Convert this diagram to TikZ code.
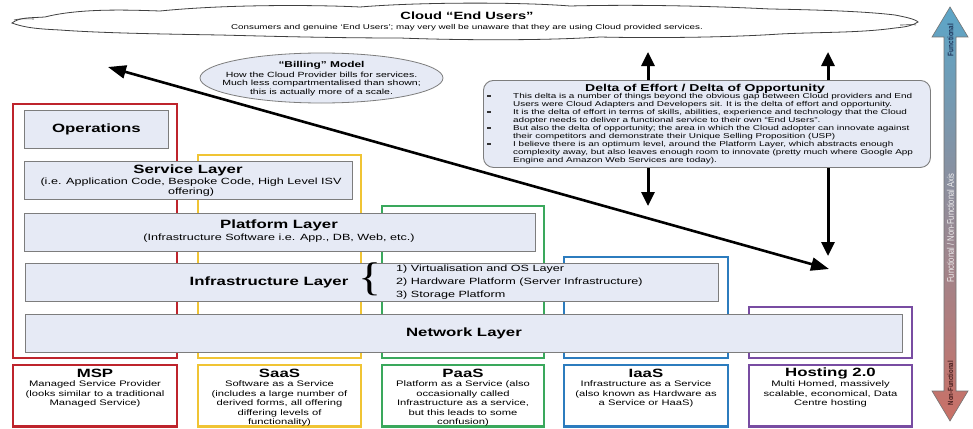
\documentclass[tikz,border=0pt]{standalone}
\usepackage{fontspec}
\setmainfont{Liberation Sans}[FakeStretch=1.4]
\newfontfamily\axisfont{Liberation Sans}[FakeStretch=0.8]
\newfontfamily\bracefont{Liberation Serif}[FakeStretch=1.2]
\usetikzlibrary{arrows.meta,shapes.geometric}
\definecolor{cred}{RGB}{190,36,44}
\definecolor{cyel}{RGB}{240,196,52}
\definecolor{cgrn}{RGB}{58,168,92}
\definecolor{cblu}{RGB}{44,124,190}
\definecolor{cpur}{RGB}{120,76,162}
\definecolor{boxfill}{RGB}{230,234,245}
\definecolor{boxdraw}{RGB}{125,125,125}
\definecolor{axtop}{RGB}{92,166,200}
\definecolor{axmid}{RGB}{158,156,168}
\definecolor{axbot}{RGB}{202,112,102}
\definecolor{axnavy}{RGB}{30,52,90}
\definecolor{axdark}{RGB}{70,30,30}
\begin{document}
\begin{tikzpicture}[x=1pt,y=-1pt,
  col/.style={line width=2.4pt},
  layer/.style={draw=boxdraw, fill=boxfill, line width=0.9pt, inner sep=0pt, anchor=north west},
  ttl/.style={font=\fontsize{12}{13}\selectfont\bfseries, inner sep=0pt},
  subt/.style={font=\fontsize{9}{10}\selectfont, align=center, inner sep=0pt},
  btxt/.style={font=\fontsize{8}{9.6}\selectfont, align=center, anchor=north, inner sep=0pt},
  dtxt/.style={font=\fontsize{7.1}{8}\selectfont, anchor=base west, inner sep=0pt},
  bigarr/.style={line width=3pt, -{Triangle[length=14pt,width=13pt]}},
]
\fill[white] (0,0) rectangle (973,428);
\useasboundingbox (0,0) rectangle (973,428);

% cloud
\draw[fill=white, draw=black!75, line width=0.8pt]
 (12,23) .. controls (20,17) and (30,18) .. (45,17)
 .. controls (80,8) and (130,10) .. (160,11)
 .. controls (230,4) and (320,5) .. (360,7)
 .. controls (420,2) and (520,2) .. (570,6)
 .. controls (650,4) and (730,7) .. (770,9)
 .. controls (830,10) and (870,12) .. (895,15)
 .. controls (905,17) and (915,19) .. (918,22)
 .. controls (912,26) and (905,27) .. (895,28)
 .. controls (860,33) and (820,32) .. (780,34)
 .. controls (720,38) and (640,38) .. (600,37)
 .. controls (540,41) and (450,40) .. (400,38)
 .. controls (330,38) and (260,36) .. (220,35)
 .. controls (160,34) and (100,33) .. (60,30)
 .. controls (40,29) and (25,28) .. (12,23) -- cycle;
\draw[draw=black!75, line width=0.6pt] (14,20) .. controls (22,18) and (28,19) .. (34,19);
\draw[draw=black!75, line width=0.6pt] (900,25) .. controls (908,25) and (912,24) .. (916,25);
\node[font=\fontsize{10.5}{12}\selectfont\bfseries, inner sep=0pt] (cloudt) at (467,16) {Cloud “End Users”};
\node[font=\fontsize{7}{8}\selectfont, inner sep=0pt] (clouds) at (467,27.5) {Consumers and genuine ‘End Users’; may very well be unaware that they are using Cloud provided services.};

% axis arrow
\shadedraw[top color=axtop, middle color=axmid, bottom color=axbot, draw=black!55, line width=0.6pt]
 (950,7) -- (968,37) -- (956,37) -- (956,391) -- (968,391) -- (950,421) -- (932,391) -- (944,391) -- (944,37) -- (932,37) -- cycle;
\node[rotate=90, font=\axisfont\bfseries\fontsize{8}{8}\selectfont, text=axnavy, inner sep=0pt] (axf) at (950.5,40) {Functional};
\node[rotate=90, font=\axisfont\fontsize{9.5}{10}\selectfont, text=white!88!gray, inner sep=0pt] (axm) at (950.5,228) {Functional / Non-Functional Axis};
\node[rotate=90, font=\axisfont\bfseries\fontsize{7.5}{8}\selectfont, text=axdark, inner sep=0pt] (axn) at (950.5,383) {Non-Functional};

% coloured columns
\draw[col, draw=cred] (13,104) rectangle (177,358);
\draw[col, draw=cyel] (198,155) rectangle (361,358);
\draw[col, draw=cgrn] (382,206) rectangle (544,358);
\draw[col, draw=cblu] (564,257) rectangle (728,358);
\draw[col, draw=cpur] (749,307) rectangle (912,358);

\draw[col, draw=cred] (13,365) rectangle (177,426.5);
\draw[col, draw=cyel] (198,365) rectangle (361,426.5);
\draw[col, draw=cgrn] (382,365) rectangle (544,426.5);
\draw[col, draw=cblu] (564,365) rectangle (728,426.5);
\draw[col, draw=cpur] (749,365) rectangle (912,426.5);

% layers
\node[layer, minimum width=144pt, minimum height=38pt] (ops) at (24,110) {};
\node[layer, minimum width=328pt, minimum height=38pt] (svc) at (24,161) {};
\node[layer, minimum width=511pt, minimum height=38pt] (plat) at (24,213) {};
\node[layer, minimum width=693pt, minimum height=38pt] (infra) at (25,263) {};
\node[layer, minimum width=877pt, minimum height=38pt] (net) at (25,314) {};

\node[ttl] (opst) at (ops.center) {Operations};
\node[ttl] (svct) at (188,170) {Service Layer};
\node[subt] (svcs) at (191,187.5) {(i.e. Application Code, Bespoke Code, High Level ISV\\offering)};
\node[ttl] (platt) at (279,225) {Platform Layer};
\node[subt] (plats) at (279,238) {(Infrastructure Software i.e. App., DB, Web, etc.)};
\node[ttl] (infrat) at (269,282) {Infrastructure Layer};
\node[inner sep=0pt, font=\bracefont\fontsize{40}{40}\selectfont] (brace) at (370,279) {\{};
\node[font=\fontsize{9}{13}\selectfont, align=left, anchor=west, inner sep=0pt] (infral) at (396,282)
 {1) Virtualisation and OS Layer\\2) Hardware Platform (Server Infrastructure)\\3) Storage Platform};
\node[ttl] (nett) at (net.center) {Network Layer};

% bottom boxes
\node[ttl] (mspt) at (95,373.5) {MSP};
\node[btxt] (mspb) at (95,380.5) {Managed Service Provider\\(looks similar to a traditional\\Managed Service)};
\node[ttl] (saast) at (279.5,373.5) {SaaS};
\node[btxt] (saasb) at (279.5,380.5) {Software as a Service\\(includes a large number of\\derived forms, all offering\\differing levels of\\functionality)};
\node[ttl] (paast) at (463,373.5) {PaaS};
\node[btxt] (paasb) at (463,380.5) {Platform as a Service (also\\occasionally called\\Infrastructure as a service,\\but this leads to some\\confusion)};
\node[ttl] (iaast) at (646,373.5) {IaaS};
\node[btxt] (iaasb) at (646,380.5) {Infrastructure as a Service\\(also known as Hardware as\\a Service or HaaS)};
\node[ttl] (hostt) at (830.5,373.5) {Hosting 2.0};
\node[btxt] (hostb) at (830.5,380.5) {Multi Homed, massively\\scalable, economical, Data\\Centre hosting};

% billing ellipse
\node[ellipse, draw=boxdraw, fill=boxfill, line width=0.8pt, minimum width=243pt, minimum height=50pt, inner sep=0pt] (bill) at (321.5,78) {};
\node[font=\fontsize{8.5}{9}\selectfont\bfseries, inner sep=0pt] (billt) at (321.5,65) {“Billing” Model};
\node[font=\fontsize{7.5}{8.5}\selectfont, align=center, inner sep=0pt] (billb) at (321.5,84) {How the Cloud Provider bills for services.\\Much less compartmentalised than shown;\\this is actually more of a scale.};

% diagonal double arrow
\coordinate (dA) at (108,67);
\coordinate (dB) at (829,269);
\draw[line width=2.6pt, {Triangle[length=18pt,width=13pt]}-{Triangle[length=18pt,width=13pt]}] (dA) -- (dB);

% delta box
\node[draw=boxdraw, fill=boxfill, line width=0.9pt, rounded corners=10pt, anchor=north west, minimum width=447pt, minimum height=87pt, inner sep=0pt] (delta) at (483,80) {};
\node[font=\fontsize{10}{11}\selectfont\bfseries, inner sep=0pt] (deltat) at (705,89) {Delta of Effort / Delta of Opportunity};
\foreach \t [count=\i] in {
 {This delta is a number of things beyond the obvious gap between Cloud providers and End},
 {Users were Cloud Adapters and Developers sit. It is the delta of effort and opportunity.},
 {It is the delta of effort in terms of skills, abilities, experience and technology that the Cloud},
 {adopter needs to deliver a functional service to their own “End Users”.},
 {But also the delta of opportunity; the area in which the Cloud adopter can innovate against},
 {their competitors and demonstrate their Unique Selling Proposition (USP)},
 {I believe there is an optimum level, around the Platform Layer, which abstracts enough},
 {complexity away, but also leaves enough room to innovate (pretty much where Google App},
 {Engine and Amazon Web Services are today).}}
 {\node[dtxt] (dl\i) at (513,{90+8.05*\i}) {\t};}
\foreach \i in {1,3,5,7}
 {\node[fill=black!80, minimum width=3.2pt, minimum height=1.6pt, inner sep=0pt] (bul\i) at (489,{87.8+8.05*\i}) {};}

% vertical arrows
\coordinate (u1) at (648,52);
\coordinate (u2) at (828,52);
\coordinate (d1) at (648,206);
\coordinate (d2) at (828,256);
\draw[bigarr] (delta.north -| u1) -- (u1);
\draw[bigarr] (delta.north -| u2) -- (u2);
\draw[bigarr] (delta.south -| d1) -- (d1);
\draw[bigarr] (delta.south -| d2) -- (d2);
\end{tikzpicture}
\end{document}
